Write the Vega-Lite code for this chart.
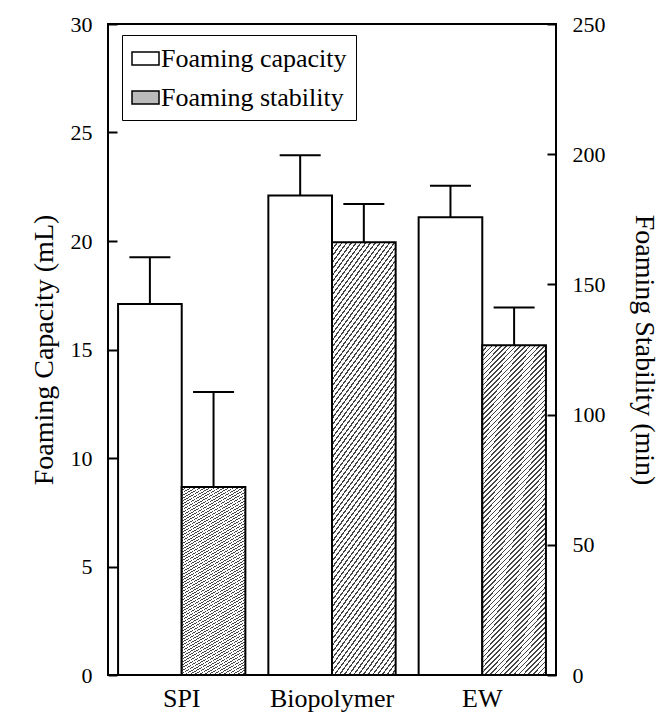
{
  "$schema": "https://vega.github.io/schema/vega-lite/v6.json",
  "width": 448,
  "height": 651,
  "autosize": {"type": "none"},
  "padding": {"left": 108, "top": 24, "right": 109, "bottom": 39},
  "background": "white",
  "config": {
    "view": {"stroke": "black", "strokeWidth": 2},
    "font": "Liberation Serif",
    "axis": {
      "grid": false,
      "domain": false,
      "labelFont": "Liberation Serif",
      "titleFont": "Liberation Serif",
      "labelColor": "black",
      "titleColor": "black",
      "tickColor": "black",
      "titleFontWeight": "normal",
      "labelFontSize": 22,
      "titleFontSize": 28,
      "tickWidth": 2
    }
  },
  "data": {
    "values": [
      {"sample": "SPI", "measure": "Foaming capacity", "value": 17.1, "upper": 19.25},
      {"sample": "Biopolymer", "measure": "Foaming capacity", "value": 22.1, "upper": 23.95},
      {"sample": "EW", "measure": "Foaming capacity", "value": 21.1, "upper": 22.55},
      {"sample": "SPI", "measure": "Foaming stability", "value": 72.2, "upper": 108.7},
      {"sample": "Biopolymer", "measure": "Foaming stability", "value": 166.2, "upper": 180.9},
      {"sample": "EW", "measure": "Foaming stability", "value": 126.6, "upper": 141.1}
    ]
  },
  "encoding": {
    "x": {
      "field": "sample",
      "type": "nominal",
      "sort": ["SPI", "Biopolymer", "EW"],
      "scale": {"paddingInner": 0.153, "paddingOuter": 0.067},
      "axis": {"title": null, "ticks": false, "labelAngle": 0, "labelFontSize": 26, "labelPadding": 10}
    },
    "xOffset": {
      "field": "measure",
      "type": "nominal",
      "scale": {"domain": ["Foaming capacity", "Foaming stability"], "paddingInner": 0, "paddingOuter": 0}
    }
  },
  "layer": [
    {
      "transform": [{"filter": "datum.measure === 'Foaming capacity'"}],
      "encoding": {
        "y": {
          "field": "value",
          "type": "quantitative",
          "scale": {"domain": [0, 30], "nice": false},
          "axis": {
            "orient": "left",
            "title": "Foaming Capacity (mL)",
            "values": [0, 5, 10, 15, 20, 25, 30],
            "ticks": true,
            "tickColor": "black",
            "tickWidth": 2,
            "zindex": 1,
            "offset": -9,
            "tickSize": 9,
            "labelPadding": 16,
            "titlePadding": 12
          }
        }
      },
      "layer": [
        {
          "mark": {"type": "bar", "stroke": "black", "strokeWidth": 2},
          "encoding": {
            "fill": {
              "field": "measure",
              "type": "nominal",
              "scale": {"domain": ["Foaming capacity", "Foaming stability"], "range": ["white", "#bbbbbb"]},
              "legend": {
                "title": null,
                "orient": "none",
                "legendX": 14,
                "legendY": 11,
                "strokeColor": "black",
                "fillColor": "white",
                "padding": 9,
                "rowPadding": 11,
                "labelFont": "Liberation Serif",
                "labelFontSize": 26,
                "labelLimit": 400,
                "labelColor": "black",
                "labelOffset": 1,
                "symbolType": "M-1,-0.48H1V0.48H-1Z",
                "symbolSize": 729,
                "symbolStrokeColor": "black",
                "symbolStrokeWidth": 1.5
              }
            }
          }
        },
        {
          "mark": {"type": "rule", "strokeWidth": 2, "color": "black"},
          "encoding": {"y2": {"field": "upper"}}
        },
        {
          "mark": {"type": "tick", "orient": "horizontal", "size": 41, "thickness": 2, "color": "black", "opacity": 1},
          "encoding": {"y": {"field": "upper", "type": "quantitative"}}
        }
      ]
    },
    {
      "transform": [{"filter": "datum.measure === 'Foaming stability'"}],
      "encoding": {
        "y": {
          "field": "value",
          "type": "quantitative",
          "scale": {"domain": [0, 250], "nice": false},
          "axis": {
            "orient": "right",
            "title": "Foaming Stability (min)",
            "values": [0, 50, 100, 150, 200, 250],
            "ticks": true,
            "tickColor": "black",
            "tickWidth": 2,
            "zindex": 1,
            "offset": -9,
            "tickSize": 9,
            "labelPadding": 16,
            "titlePadding": 24
          }
        }
      },
      "layer": [
        {
          "mark": {
            "type": "bar",
            "stroke": "black",
            "strokeWidth": 2,
            "fill": {
              "gradient": "linear",
              "x1": 0, "y1": 0, "x2": 0.231, "y2": 1.154,
              "stops": [
                {"offset": 0, "color": "#444"}, {"offset": 0.004, "color": "#444"}, {"offset": 0.004, "color": "#fff"}, {"offset": 0.0125, "color": "#fff"},
                {"offset": 0.0125, "color": "#444"}, {"offset": 0.0165, "color": "#444"}, {"offset": 0.0165, "color": "#fff"}, {"offset": 0.025, "color": "#fff"},
                {"offset": 0.025, "color": "#444"}, {"offset": 0.029, "color": "#444"}, {"offset": 0.029, "color": "#fff"}, {"offset": 0.0375, "color": "#fff"},
                {"offset": 0.0375, "color": "#444"}, {"offset": 0.0415, "color": "#444"}, {"offset": 0.0415, "color": "#fff"}, {"offset": 0.05, "color": "#fff"},
                {"offset": 0.05, "color": "#444"}, {"offset": 0.054, "color": "#444"}, {"offset": 0.054, "color": "#fff"}, {"offset": 0.0625, "color": "#fff"},
                {"offset": 0.0625, "color": "#444"}, {"offset": 0.0665, "color": "#444"}, {"offset": 0.0665, "color": "#fff"}, {"offset": 0.075, "color": "#fff"},
                {"offset": 0.075, "color": "#444"}, {"offset": 0.079, "color": "#444"}, {"offset": 0.079, "color": "#fff"}, {"offset": 0.0875, "color": "#fff"},
                {"offset": 0.0875, "color": "#444"}, {"offset": 0.0915, "color": "#444"}, {"offset": 0.0915, "color": "#fff"}, {"offset": 0.1, "color": "#fff"},
                {"offset": 0.1, "color": "#444"}, {"offset": 0.104, "color": "#444"}, {"offset": 0.104, "color": "#fff"}, {"offset": 0.1125, "color": "#fff"},
                {"offset": 0.1125, "color": "#444"}, {"offset": 0.1165, "color": "#444"}, {"offset": 0.1165, "color": "#fff"}, {"offset": 0.125, "color": "#fff"},
                {"offset": 0.125, "color": "#444"}, {"offset": 0.129, "color": "#444"}, {"offset": 0.129, "color": "#fff"}, {"offset": 0.1375, "color": "#fff"},
                {"offset": 0.1375, "color": "#444"}, {"offset": 0.1415, "color": "#444"}, {"offset": 0.1415, "color": "#fff"}, {"offset": 0.15, "color": "#fff"},
                {"offset": 0.15, "color": "#444"}, {"offset": 0.154, "color": "#444"}, {"offset": 0.154, "color": "#fff"}, {"offset": 0.1625, "color": "#fff"},
                {"offset": 0.1625, "color": "#444"}, {"offset": 0.1665, "color": "#444"}, {"offset": 0.1665, "color": "#fff"}, {"offset": 0.175, "color": "#fff"},
                {"offset": 0.175, "color": "#444"}, {"offset": 0.179, "color": "#444"}, {"offset": 0.179, "color": "#fff"}, {"offset": 0.1875, "color": "#fff"},
                {"offset": 0.1875, "color": "#444"}, {"offset": 0.1915, "color": "#444"}, {"offset": 0.1915, "color": "#fff"}, {"offset": 0.2, "color": "#fff"},
                {"offset": 0.2, "color": "#444"}, {"offset": 0.204, "color": "#444"}, {"offset": 0.204, "color": "#fff"}, {"offset": 0.2125, "color": "#fff"},
                {"offset": 0.2125, "color": "#444"}, {"offset": 0.2165, "color": "#444"}, {"offset": 0.2165, "color": "#fff"}, {"offset": 0.225, "color": "#fff"},
                {"offset": 0.225, "color": "#444"}, {"offset": 0.229, "color": "#444"}, {"offset": 0.229, "color": "#fff"}, {"offset": 0.2375, "color": "#fff"},
                {"offset": 0.2375, "color": "#444"}, {"offset": 0.2415, "color": "#444"}, {"offset": 0.2415, "color": "#fff"}, {"offset": 0.25, "color": "#fff"},
                {"offset": 0.25, "color": "#444"}, {"offset": 0.254, "color": "#444"}, {"offset": 0.254, "color": "#fff"}, {"offset": 0.2625, "color": "#fff"},
                {"offset": 0.2625, "color": "#444"}, {"offset": 0.2665, "color": "#444"}, {"offset": 0.2665, "color": "#fff"}, {"offset": 0.275, "color": "#fff"},
                {"offset": 0.275, "color": "#444"}, {"offset": 0.279, "color": "#444"}, {"offset": 0.279, "color": "#fff"}, {"offset": 0.2875, "color": "#fff"},
                {"offset": 0.2875, "color": "#444"}, {"offset": 0.2915, "color": "#444"}, {"offset": 0.2915, "color": "#fff"}, {"offset": 0.3, "color": "#fff"},
                {"offset": 0.3, "color": "#444"}, {"offset": 0.304, "color": "#444"}, {"offset": 0.304, "color": "#fff"}, {"offset": 0.3125, "color": "#fff"},
                {"offset": 0.3125, "color": "#444"}, {"offset": 0.3165, "color": "#444"}, {"offset": 0.3165, "color": "#fff"}, {"offset": 0.325, "color": "#fff"},
                {"offset": 0.325, "color": "#444"}, {"offset": 0.329, "color": "#444"}, {"offset": 0.329, "color": "#fff"}, {"offset": 0.3375, "color": "#fff"},
                {"offset": 0.3375, "color": "#444"}, {"offset": 0.3415, "color": "#444"}, {"offset": 0.3415, "color": "#fff"}, {"offset": 0.35, "color": "#fff"},
                {"offset": 0.35, "color": "#444"}, {"offset": 0.354, "color": "#444"}, {"offset": 0.354, "color": "#fff"}, {"offset": 0.3625, "color": "#fff"},
                {"offset": 0.3625, "color": "#444"}, {"offset": 0.3665, "color": "#444"}, {"offset": 0.3665, "color": "#fff"}, {"offset": 0.375, "color": "#fff"},
                {"offset": 0.375, "color": "#444"}, {"offset": 0.379, "color": "#444"}, {"offset": 0.379, "color": "#fff"}, {"offset": 0.3875, "color": "#fff"},
                {"offset": 0.3875, "color": "#444"}, {"offset": 0.3915, "color": "#444"}, {"offset": 0.3915, "color": "#fff"}, {"offset": 0.4, "color": "#fff"},
                {"offset": 0.4, "color": "#444"}, {"offset": 0.404, "color": "#444"}, {"offset": 0.404, "color": "#fff"}, {"offset": 0.4125, "color": "#fff"},
                {"offset": 0.4125, "color": "#444"}, {"offset": 0.4165, "color": "#444"}, {"offset": 0.4165, "color": "#fff"}, {"offset": 0.425, "color": "#fff"},
                {"offset": 0.425, "color": "#444"}, {"offset": 0.429, "color": "#444"}, {"offset": 0.429, "color": "#fff"}, {"offset": 0.4375, "color": "#fff"},
                {"offset": 0.4375, "color": "#444"}, {"offset": 0.4415, "color": "#444"}, {"offset": 0.4415, "color": "#fff"}, {"offset": 0.45, "color": "#fff"},
                {"offset": 0.45, "color": "#444"}, {"offset": 0.454, "color": "#444"}, {"offset": 0.454, "color": "#fff"}, {"offset": 0.4625, "color": "#fff"},
                {"offset": 0.4625, "color": "#444"}, {"offset": 0.4665, "color": "#444"}, {"offset": 0.4665, "color": "#fff"}, {"offset": 0.475, "color": "#fff"},
                {"offset": 0.475, "color": "#444"}, {"offset": 0.479, "color": "#444"}, {"offset": 0.479, "color": "#fff"}, {"offset": 0.4875, "color": "#fff"},
                {"offset": 0.4875, "color": "#444"}, {"offset": 0.4915, "color": "#444"}, {"offset": 0.4915, "color": "#fff"}, {"offset": 0.5, "color": "#fff"},
                {"offset": 0.5, "color": "#444"}, {"offset": 0.504, "color": "#444"}, {"offset": 0.504, "color": "#fff"}, {"offset": 0.5125, "color": "#fff"},
                {"offset": 0.5125, "color": "#444"}, {"offset": 0.5165, "color": "#444"}, {"offset": 0.5165, "color": "#fff"}, {"offset": 0.525, "color": "#fff"},
                {"offset": 0.525, "color": "#444"}, {"offset": 0.529, "color": "#444"}, {"offset": 0.529, "color": "#fff"}, {"offset": 0.5375, "color": "#fff"},
                {"offset": 0.5375, "color": "#444"}, {"offset": 0.5415, "color": "#444"}, {"offset": 0.5415, "color": "#fff"}, {"offset": 0.55, "color": "#fff"},
                {"offset": 0.55, "color": "#444"}, {"offset": 0.554, "color": "#444"}, {"offset": 0.554, "color": "#fff"}, {"offset": 0.5625, "color": "#fff"},
                {"offset": 0.5625, "color": "#444"}, {"offset": 0.5665, "color": "#444"}, {"offset": 0.5665, "color": "#fff"}, {"offset": 0.575, "color": "#fff"},
                {"offset": 0.575, "color": "#444"}, {"offset": 0.579, "color": "#444"}, {"offset": 0.579, "color": "#fff"}, {"offset": 0.5875, "color": "#fff"},
                {"offset": 0.5875, "color": "#444"}, {"offset": 0.5915, "color": "#444"}, {"offset": 0.5915, "color": "#fff"}, {"offset": 0.6, "color": "#fff"},
                {"offset": 0.6, "color": "#444"}, {"offset": 0.604, "color": "#444"}, {"offset": 0.604, "color": "#fff"}, {"offset": 0.6125, "color": "#fff"},
                {"offset": 0.6125, "color": "#444"}, {"offset": 0.6165, "color": "#444"}, {"offset": 0.6165, "color": "#fff"}, {"offset": 0.625, "color": "#fff"},
                {"offset": 0.625, "color": "#444"}, {"offset": 0.629, "color": "#444"}, {"offset": 0.629, "color": "#fff"}, {"offset": 0.6375, "color": "#fff"},
                {"offset": 0.6375, "color": "#444"}, {"offset": 0.6415, "color": "#444"}, {"offset": 0.6415, "color": "#fff"}, {"offset": 0.65, "color": "#fff"},
                {"offset": 0.65, "color": "#444"}, {"offset": 0.654, "color": "#444"}, {"offset": 0.654, "color": "#fff"}, {"offset": 0.6625, "color": "#fff"},
                {"offset": 0.6625, "color": "#444"}, {"offset": 0.6665, "color": "#444"}, {"offset": 0.6665, "color": "#fff"}, {"offset": 0.675, "color": "#fff"},
                {"offset": 0.675, "color": "#444"}, {"offset": 0.679, "color": "#444"}, {"offset": 0.679, "color": "#fff"}, {"offset": 0.6875, "color": "#fff"},
                {"offset": 0.6875, "color": "#444"}, {"offset": 0.6915, "color": "#444"}, {"offset": 0.6915, "color": "#fff"}, {"offset": 0.7, "color": "#fff"},
                {"offset": 0.7, "color": "#444"}, {"offset": 0.704, "color": "#444"}, {"offset": 0.704, "color": "#fff"}, {"offset": 0.7125, "color": "#fff"},
                {"offset": 0.7125, "color": "#444"}, {"offset": 0.7165, "color": "#444"}, {"offset": 0.7165, "color": "#fff"}, {"offset": 0.725, "color": "#fff"},
                {"offset": 0.725, "color": "#444"}, {"offset": 0.729, "color": "#444"}, {"offset": 0.729, "color": "#fff"}, {"offset": 0.7375, "color": "#fff"},
                {"offset": 0.7375, "color": "#444"}, {"offset": 0.7415, "color": "#444"}, {"offset": 0.7415, "color": "#fff"}, {"offset": 0.75, "color": "#fff"},
                {"offset": 0.75, "color": "#444"}, {"offset": 0.754, "color": "#444"}, {"offset": 0.754, "color": "#fff"}, {"offset": 0.7625, "color": "#fff"},
                {"offset": 0.7625, "color": "#444"}, {"offset": 0.7665, "color": "#444"}, {"offset": 0.7665, "color": "#fff"}, {"offset": 0.775, "color": "#fff"},
                {"offset": 0.775, "color": "#444"}, {"offset": 0.779, "color": "#444"}, {"offset": 0.779, "color": "#fff"}, {"offset": 0.7875, "color": "#fff"},
                {"offset": 0.7875, "color": "#444"}, {"offset": 0.7915, "color": "#444"}, {"offset": 0.7915, "color": "#fff"}, {"offset": 0.8, "color": "#fff"},
                {"offset": 0.8, "color": "#444"}, {"offset": 0.804, "color": "#444"}, {"offset": 0.804, "color": "#fff"}, {"offset": 0.8125, "color": "#fff"},
                {"offset": 0.8125, "color": "#444"}, {"offset": 0.8165, "color": "#444"}, {"offset": 0.8165, "color": "#fff"}, {"offset": 0.825, "color": "#fff"},
                {"offset": 0.825, "color": "#444"}, {"offset": 0.829, "color": "#444"}, {"offset": 0.829, "color": "#fff"}, {"offset": 0.8375, "color": "#fff"},
                {"offset": 0.8375, "color": "#444"}, {"offset": 0.8415, "color": "#444"}, {"offset": 0.8415, "color": "#fff"}, {"offset": 0.85, "color": "#fff"},
                {"offset": 0.85, "color": "#444"}, {"offset": 0.854, "color": "#444"}, {"offset": 0.854, "color": "#fff"}, {"offset": 0.8625, "color": "#fff"},
                {"offset": 0.8625, "color": "#444"}, {"offset": 0.8665, "color": "#444"}, {"offset": 0.8665, "color": "#fff"}, {"offset": 0.875, "color": "#fff"},
                {"offset": 0.875, "color": "#444"}, {"offset": 0.879, "color": "#444"}, {"offset": 0.879, "color": "#fff"}, {"offset": 0.8875, "color": "#fff"},
                {"offset": 0.8875, "color": "#444"}, {"offset": 0.8915, "color": "#444"}, {"offset": 0.8915, "color": "#fff"}, {"offset": 0.9, "color": "#fff"},
                {"offset": 0.9, "color": "#444"}, {"offset": 0.904, "color": "#444"}, {"offset": 0.904, "color": "#fff"}, {"offset": 0.9125, "color": "#fff"},
                {"offset": 0.9125, "color": "#444"}, {"offset": 0.9165, "color": "#444"}, {"offset": 0.9165, "color": "#fff"}, {"offset": 0.925, "color": "#fff"},
                {"offset": 0.925, "color": "#444"}, {"offset": 0.929, "color": "#444"}, {"offset": 0.929, "color": "#fff"}, {"offset": 0.9375, "color": "#fff"},
                {"offset": 0.9375, "color": "#444"}, {"offset": 0.9415, "color": "#444"}, {"offset": 0.9415, "color": "#fff"}, {"offset": 0.95, "color": "#fff"},
                {"offset": 0.95, "color": "#444"}, {"offset": 0.954, "color": "#444"}, {"offset": 0.954, "color": "#fff"}, {"offset": 0.9625, "color": "#fff"},
                {"offset": 0.9625, "color": "#444"}, {"offset": 0.9665, "color": "#444"}, {"offset": 0.9665, "color": "#fff"}, {"offset": 0.975, "color": "#fff"},
                {"offset": 0.975, "color": "#444"}, {"offset": 0.979, "color": "#444"}, {"offset": 0.979, "color": "#fff"}, {"offset": 0.9875, "color": "#fff"},
                {"offset": 0.9875, "color": "#444"}, {"offset": 0.9915, "color": "#444"}, {"offset": 0.9915, "color": "#fff"}, {"offset": 1, "color": "#fff"}
              ]
            }
          }
        },
        {
          "mark": {"type": "rule", "strokeWidth": 2, "color": "black"},
          "encoding": {"y2": {"field": "upper"}}
        },
        {
          "mark": {"type": "tick", "orient": "horizontal", "size": 41, "thickness": 2, "color": "black", "opacity": 1},
          "encoding": {"y": {"field": "upper", "type": "quantitative"}}
        }
      ]
    }
  ],
  "resolve": {"scale": {"y": "independent"}}
}
